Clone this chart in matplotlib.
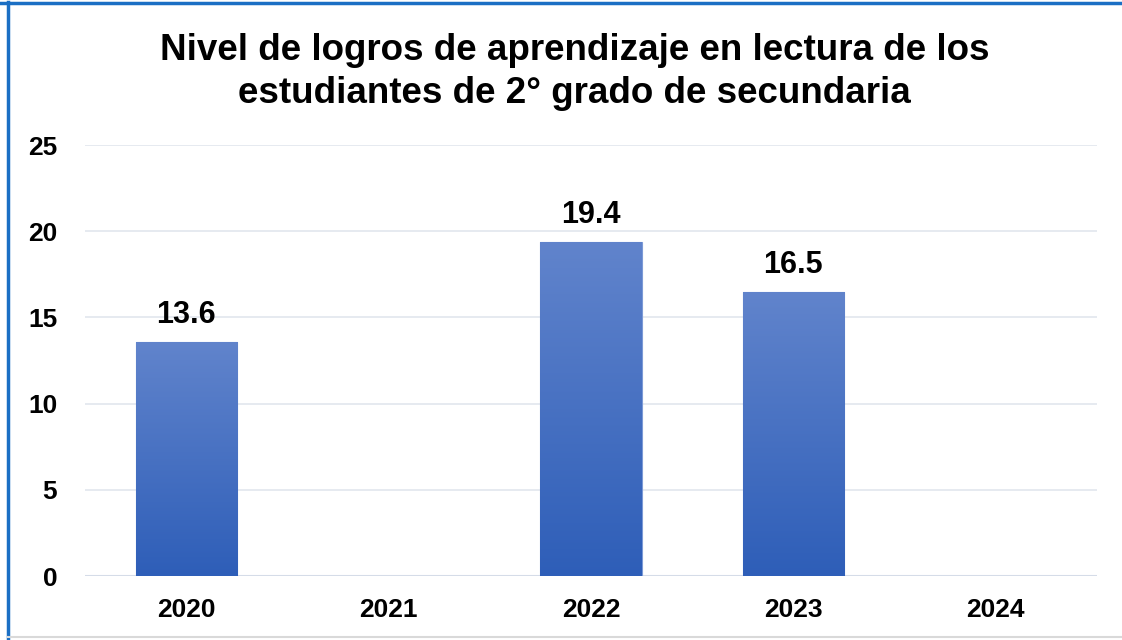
import matplotlib
matplotlib.use("Agg")
import matplotlib.pyplot as plt
import numpy as np
from matplotlib.colors import LinearSegmentedColormap
from matplotlib.lines import Line2D

categories = ["2020", "2021", "2022", "2023", "2024"]
values = [13.6, np.nan, 19.4, 16.5, np.nan]
labels = ["13.6", "", "19.4", "16.5", ""]
title_lines = ["Nivel de logros de aprendizaje en lectura de los",
               "estudiantes de 2° grado de secundaria"]
yticks = [0, 5, 10, 15, 20, 25]

plt.rcParams['font.family'] = ['Liberation Sans', 'DejaVu Sans']

fig = plt.figure(figsize=(11.22, 6.4), dpi=100)
ax = fig.add_axes([0.0758, 0.1, 0.9019, 0.6734])

x = np.arange(len(categories))
vals = [0 if np.isnan(v) else v for v in values]
bars = ax.bar(x, vals, width=0.5, color="#4472C4", edgecolor="#7C9AD6", linewidth=0.8, zorder=2)

cmap = LinearSegmentedColormap.from_list("g", ["#2E5EB8", "#6184CC"])
grad = np.linspace(0, 1, 256).reshape(-1, 1)
for b, v in zip(bars, vals):
    if v <= 0:
        b.set_visible(False)
        continue
    x0, y0 = b.get_x(), b.get_y()
    im = ax.imshow(grad, cmap=cmap, origin="lower", aspect="auto",
                   extent=(x0, x0 + b.get_width(), y0, y0 + b.get_height()), zorder=2.5)
    im.set_clip_path(b)

for b, lab in zip(bars, labels):
    if lab:
        ax.annotate(lab, (b.get_x() + b.get_width() / 2, b.get_height()),
                    xytext=(0, 8), textcoords="offset points", ha="center", va="bottom",
                    fontsize=22, fontweight="bold", color="black", zorder=4)

ax.set_xlim(-0.5, len(categories) - 0.5)
ax.set_ylim(0, 25)
ax.set_yticks(yticks)
ax.set_xticks(x)
ax.set_xticklabels(categories)
for s in ax.spines.values():
    s.set_visible(False)
ax.tick_params(axis="both", length=0, labelsize=19)
ax.tick_params(axis="x", pad=16)
ax.tick_params(axis="y", pad=20)
for t in ax.get_xticklabels() + ax.get_yticklabels():
    t.set_fontweight("bold")
ax.yaxis.grid(True, color="#E2E6EE", linewidth=1.2, zorder=0)
ax.set_axisbelow(True)
ax.axhline(0, color="#D5DCE8", linewidth=1.5, zorder=1)

fig.text(0.512, 1 - 60 / 640, title_lines[0], ha="center", va="baseline", fontsize=26.5,
         fontweight="bold")
fig.text(0.512, 1 - 103 / 640, title_lines[1], ha="center", va="baseline", fontsize=26.5,
         fontweight="bold")

# figure border
fig.add_artist(Line2D([0, 1], [0.9955, 0.9955], transform=fig.transFigure, color="#1B6FC4", linewidth=2.5))
fig.add_artist(Line2D([0.0067, 0.0067], [0.0, 0.997], transform=fig.transFigure, color="#1B6FC4", linewidth=2.5))
fig.add_artist(Line2D([0.0067, 1], [0.004, 0.004], transform=fig.transFigure, color="#D9D9D9", linewidth=1.5))

fig.savefig("out.png", dpi=100)
